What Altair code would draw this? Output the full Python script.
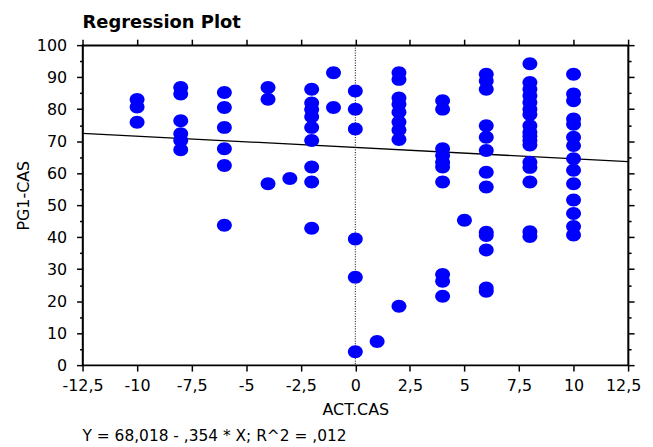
import altair as alt
import pandas as pd

# Scatter data (ACT.CAS, PG1-CAS)
act_cas = (
    [-10] * 3 + [-8] * 6 + [-6] * 6 + [-4] * 3 + [-3] * 1 + [-2] * 9 + [-1] * 2
    + [0] * 6 + [1] * 1 + [2] * 9 + [4] * 10 + [5] * 1 + [6] * 13 + [8] * 17 + [10] * 14
)
pg1_cas = (
    [83, 80.7, 75.9]
    + [86.8, 84.7, 76.4, 72.3, 70.2, 67.3]
    + [85.2, 80.5, 74.3, 67.6, 62.4, 43.7]
    + [86.8, 83.1, 56.7]
    + [58.3]
    + [86.2, 81.9, 79.9, 77.6, 74.3, 70.2, 61.9, 57.2, 42.8]
    + [91.4, 80.5]
    + [85.7, 80.0, 73.8, 39.4, 27.5, 4.2]
    + [7.4]
    + [91.4, 89.3, 83.5, 81.5, 79.0, 76.0, 73.5, 70.5, 18.4]
    + [82.6, 80.0, 67.6, 65.5, 63.4, 61.9, 57.2, 28.3, 26.2, 21.5]
    + [45.3]
    + [90.9, 88.8, 86.2, 74.8, 71.2, 67.1, 60.3, 55.7, 41.5, 40.5, 36.0, 24.1, 23.1]
    + [94.2, 88.3, 86.2, 84.2, 82.1, 80.0, 78.3, 74.8, 72.8, 71.5, 70.2, 68.8, 63.4, 61.8, 57.2, 41.7, 40.2]
    + [90.9, 84.7, 82.6, 76.9, 75.3, 71.2, 68.6, 64.5, 60.9, 56.7, 51.6, 47.4, 43.3, 40.7]
)

# Regression coefficients printed under the chart
intercept = 68.018
slope = -0.354
line_x = [-12.5, 12.5]
zero_x = [0]

x_ticks = [-12.5, -10, -7.5, -5, -2.5, 0, 2.5, 5, 7.5, 10, 12.5]
y_ticks = list(range(0, 101, 5))

footer_text = "Y = 68,018 - ,354 * X; R^2 = ,012"

pts = pd.DataFrame({"x": act_cas, "y": pg1_cas})
reg = pd.DataFrame({"x": line_x, "y": [intercept + slope * v for v in line_x]})
zero = pd.DataFrame({"x": zero_x})

W, H = 549, 322
FONT = "DejaVu Sans"

xscale = alt.Scale(domain=[-12.5, 12.5], nice=False, zero=False)
yscale = alt.Scale(domain=[0, 100], nice=False)

tick_cond = {"condition": {"test": "datum.value % 10 === 0", "value": 6}, "value": 3}

x_bottom = alt.Axis(
    orient="bottom", values=x_ticks, title="ACT.CAS", grid=False,
    labelExpr="replace(datum.value + '', '.', ',')",
    labelOffset={"condition": {"test": "datum.value === 12.5", "value": -5}, "value": 0},
    tickSize=6, labelPadding=7, titlePadding=8, labelFlush=False,
)
y_left = alt.Axis(
    orient="left", values=y_ticks, title="PG1-CAS", grid=False,
    labelExpr="datum.value % 10 === 0 ? datum.value + '' : ''",
    tickSize=tick_cond, labelPadding=10, titlePadding=5, titleY=151,
)
x_top = alt.Axis(orient="top", values=x_ticks, labels=False, title=None, grid=False, tickSize=6)
y_right = alt.Axis(orient="right", values=y_ticks, labels=False, title=None, grid=False, tickSize=tick_cond)

points = alt.Chart(pts).mark_point(
    filled=True, opacity=1, color="#0000FF",
    shape="M-1,0 A1,0.87 0 1,1 1,0 A1,0.87 0 1,1 -1,0 Z",
    size=225,
).encode(
    x=alt.X("x:Q", scale=xscale, axis=x_bottom),
    y=alt.Y("y:Q", scale=yscale, axis=y_left),
)

line = alt.Chart(reg).mark_line(color="black", strokeWidth=1.3).encode(
    x=alt.X("x:Q", scale=xscale, axis=x_top),
    y=alt.Y("y:Q", scale=yscale, axis=y_right),
)

vline = alt.Chart(zero).mark_rule(color="black", strokeWidth=1, strokeDash=[1, 1.5]).encode(
    x=alt.X("x:Q", scale=xscale, axis=None),
)

footer = alt.Chart(pd.DataFrame({"t": [footer_text]})).mark_text(
    align="left", baseline="middle", font=FONT, fontSize=15.5, color="black"
).encode(
    text="t:N",
    x=alt.value(0),
    y=alt.value(H + 71),
)

chart = alt.layer(vline, line, points, footer).resolve_axis(
    x="independent", y="independent"
).properties(
    width=W, height=H,
    title=alt.TitleParams("Regression Plot", anchor="start", frame="group", font=FONT,
                          fontSize=18, fontWeight="bold", offset=5, color="black"),
    autosize=alt.AutoSizeParams(type="none"),
    padding={"left": 75, "top": 36, "right": 17, "bottom": 80},
).configure_view(
    stroke="black", strokeWidth=1.5
).configure_axis(
    domainColor="black", domainWidth=1.5, tickColor="black", tickWidth=1.5,
    labelFont=FONT, labelFontSize=16, labelColor="black",
    titleFont=FONT, titleFontSize=16, titleFontWeight="normal", titleColor="black",
)

chart.save("out.html", embed_options={"renderer": "svg", "actions": False})
